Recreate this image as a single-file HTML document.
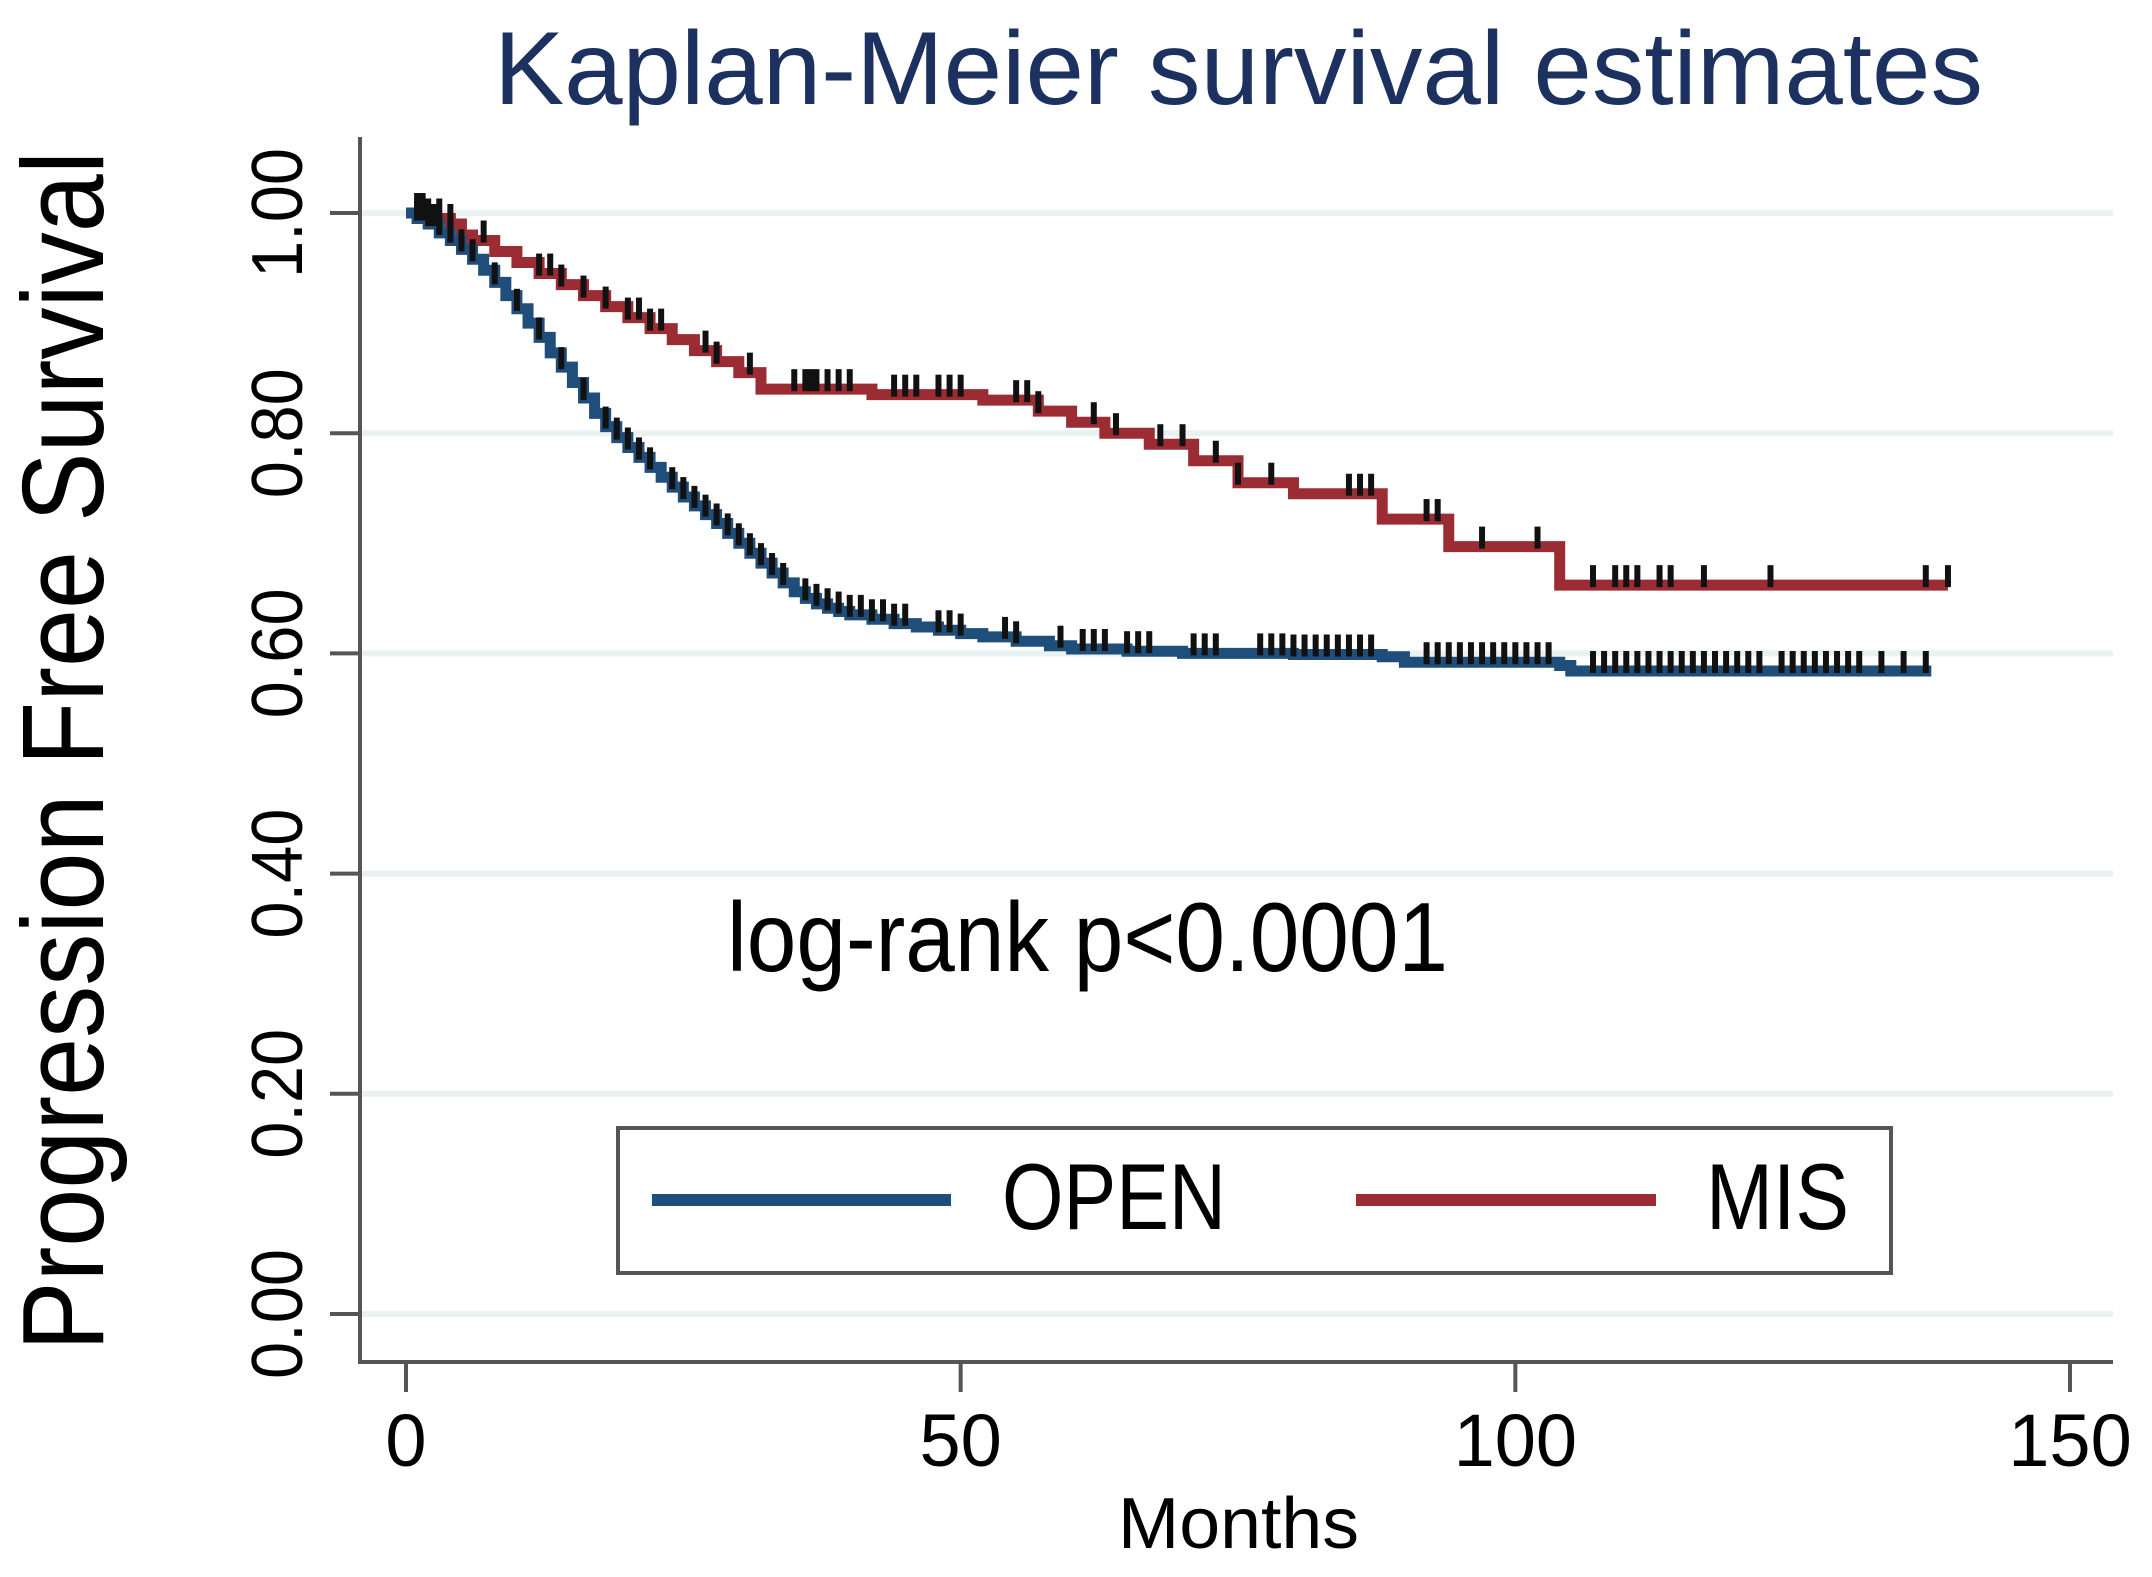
<!DOCTYPE html>
<html><head><meta charset="utf-8"><style>
html,body{margin:0;padding:0;background:#fff;}
svg{display:block;}
text{font-family:"Liberation Sans",Arial,sans-serif;}
</style></head><body>
<svg id="chart" width="2152" height="1577" viewBox="0 0 2152 1577">
<rect width="2152" height="1577" fill="#fff"/>
<text x="494" y="104" font-size="104" textLength="1489" lengthAdjust="spacingAndGlyphs" fill="#1c3160">Kaplan-Meier survival estimates</text>
<text transform="translate(103,751) rotate(-90)" text-anchor="middle" font-size="116" textLength="1200" lengthAdjust="spacingAndGlyphs" fill="#000">Progression Free Survival</text>
<text x="1118" y="1548" font-size="72" textLength="241" lengthAdjust="spacingAndGlyphs" fill="#000">Months</text>
<g id="grid"></g><g id="axes"></g><g id="series"></g>
<text x="727" y="971" font-size="98" textLength="721" lengthAdjust="spacingAndGlyphs" fill="#000">log-rank p&lt;0.0001</text>
<g>
<rect x="618" y="1128" width="1273" height="145" fill="#fff" stroke="#555" stroke-width="4"/>
<line x1="652" y1="1200" x2="951" y2="1200" stroke="#1f4e7a" stroke-width="12"/>
<text x="1002" y="1229" font-size="94" textLength="224" lengthAdjust="spacingAndGlyphs" fill="#000">OPEN</text>
<line x1="1356" y1="1200" x2="1656" y2="1200" stroke="#9b2c33" stroke-width="12"/>
<text x="1706" y="1229" font-size="94" textLength="143" lengthAdjust="spacingAndGlyphs" fill="#000">MIS</text>
</g>
</svg>
<script>
const xTicks=[0,50,100,150];
const yTicks=[0,0.2,0.4,0.6,0.8,1.0];
const yTickLabels=["0.00","0.20","0.40","0.60","0.80","1.00"];
const misTimes=[0,2,4,5,6,8,10,12,14,16,18,20,22,24,26,28,30,32,42,52,57,60,63,67,71,75,80,88,94,104,139];
const misSurv=[1.0,0.995,0.99,0.98,0.975,0.965,0.955,0.945,0.935,0.925,0.915,0.905,0.895,0.885,0.875,0.865,0.855,0.84,0.835,0.83,0.82,0.81,0.80,0.79,0.775,0.755,0.745,0.722,0.697,0.662,0.662];
const openTimes=[0,1,2,3,4,5,6,7,8,9,10,11,12,13,14,15,16,17,18,19,20,21,22,23,24,25,26,27,28,29,30,31,32,33,34,35,36,37,38,39,40,42,44,46,48,50,52,55,58,60,65,70,80,88,90,104,105,137.5];
const openSurv=[1.0,0.995,0.99,0.982,0.975,0.967,0.958,0.948,0.937,0.925,0.913,0.9,0.887,0.873,0.86,0.846,0.832,0.818,0.806,0.796,0.787,0.778,0.769,0.76,0.751,0.742,0.734,0.726,0.718,0.709,0.7,0.691,0.682,0.673,0.664,0.656,0.65,0.645,0.641,0.638,0.635,0.631,0.627,0.624,0.621,0.618,0.615,0.611,0.607,0.604,0.602,0.6,0.599,0.597,0.592,0.589,0.584,0.584];
const misCensor=[1,1.5,2,3,4,7,12,13,14,16,18,20,21,22,23,27,28,31,35,36,36.5,37,38,39,40,44,45,46,48,49,50,55,56,57,62,64,68,70,73,75,78,85,86,87,92,93,97,102,107,109,110,111,113,114,117,123,137,139];
const openCensor=[1,1.5,2,2.5,3,4,5,6,8,10,12,14,16,18,19,20,21,22,24,25,26,27,28,29,30,31,32,33,34,36,37,38,39,40,41,42,43,44,45,48,49,50,54,55,59,61,62,63,65,66,67,71,72,73,77,78,79,80,81,82,83,84,85,86,87,92,93,94,95,96,97,98,99,100,101,102,103,107,108,109,110,111,112,113,114,115,116,117,118,119,120,121,122,124,125,126,127,128,129,130,131,133,135,137];
const X=v=>406+v*(2070-406)/150;
const Y=v=>1314-v*(1314-213);
const NS="http://www.w3.org/2000/svg";
function mk(tag,attrs,parent){const e=document.createElementNS(NS,tag);for(const k in attrs)e.setAttribute(k,attrs[k]);parent.appendChild(e);return e;}
const grid=document.getElementById('grid'),axes=document.getElementById('axes'),series=document.getElementById('series');
yTicks.forEach((t,i)=>{
 const g=mk('line',{x1:362,x2:2113,y1:Y(t),y2:Y(t),stroke:'#e9f1f3','stroke-width':6},grid);
 
 
 const tk=mk('line',{x1:330,x2:360,y1:Y(t),y2:Y(t),stroke:'#555','stroke-width':4},axes);
 
 
 const lb=mk('text',{transform:`translate(302,${Y(t)}) rotate(-90)`,'text-anchor':'middle','font-size':72,textLength:130,lengthAdjust:'spacingAndGlyphs',fill:'#000'},axes);
 lb.textContent=yTickLabels[i];
 
 
});
const ya=mk('line',{x1:360,x2:360,y1:137,y2:1364,stroke:'#555','stroke-width':4},axes);


const xa=mk('line',{x1:358,x2:2113,y1:1362,y2:1362,stroke:'#555','stroke-width':4},axes);


xTicks.forEach(t=>{
 const tk=mk('line',{x1:X(t),x2:X(t),y1:1362,y2:1392,stroke:'#555','stroke-width':4},axes);
 
 
 const lb=mk('text',{x:X(t),y:1466,'text-anchor':'middle','font-size':74,fill:'#000'},axes);
 lb.textContent=String(t);
 
 
});
function stepPath(ts,ss){let d=`M${X(ts[0])},${Y(ss[0])}`;for(let i=1;i<ts.length;i++){d+=`H${X(ts[i])}V${Y(ss[i])}`;}return d;}
function survAt(ts,ss,t){let s=ss[0];for(let i=0;i<ts.length;i++){if(ts[i]<=t)s=ss[i];}return s;}
const pm=mk('path',{d:stepPath(misTimes,misSurv),fill:'none',stroke:'#9b2c33','stroke-width':11},series);


const po=mk('path',{d:stepPath(openTimes,openSurv),fill:'none',stroke:'#1f4e7a','stroke-width':11},series);


misCensor.forEach(t=>{const y=Y(survAt(misTimes,misSurv,t));
 const c=mk('line',{x1:X(t),x2:X(t),y1:y-20,y2:y+2,stroke:'#111','stroke-width':6},series);
 
 });
openCensor.forEach(t=>{const y=Y(survAt(openTimes,openSurv,t));
 const c=mk('line',{x1:X(t),x2:X(t),y1:y-20,y2:y+2,stroke:'#111','stroke-width':6},series);
 
 });
</script>
</body></html>
